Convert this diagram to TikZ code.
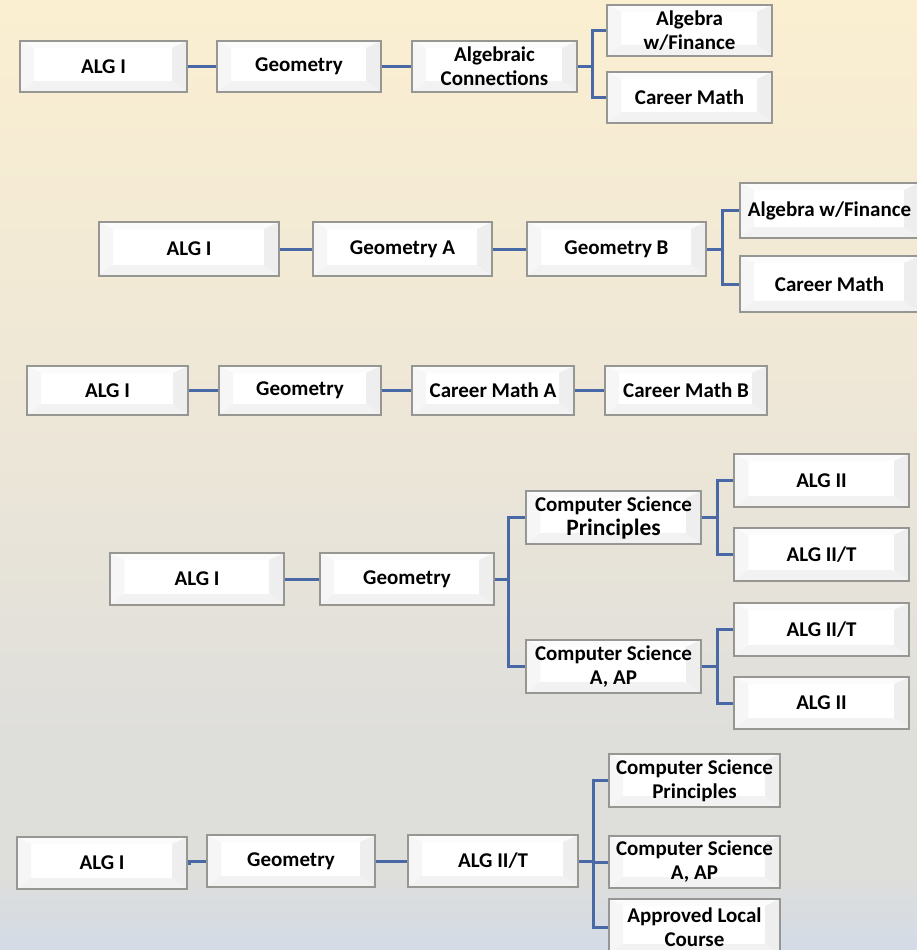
\documentclass[tikz,border=0pt]{standalone}
\usepackage{fontspec}
\setmainfont{Carlito}
\definecolor{bgtop}{RGB}{251,239,209}
\definecolor{bgmid}{RGB}{236,230,216}
\definecolor{bggray}{RGB}{222,222,219}
\definecolor{bgbot}{RGB}{211,219,230}
\definecolor{link}{RGB}{72,104,166}
\definecolor{rim}{RGB}{150,150,146}
\pgfdeclareverticalshading{pagebg}{100bp}{color(0bp)=(bgbot); color(25bp)=(bgbot); color(29bp)=(bggray); color(36bp)=(bggray); color(51bp)=(bgmid); color(75bp)=(bgtop); color(100bp)=(bgtop)}
\tikzset{
  bevelbox/.style={rectangle, draw=rim, line width=1.1pt, fill=white, inner sep=0pt,
    align=center, text=black, font=\bfseries\fontsize{21}{24}\selectfont,
    path picture={
      \coordinate (bvnw) at (path picture bounding box.north west);
      \coordinate (bvne) at (path picture bounding box.north east);
      \coordinate (bvsw) at (path picture bounding box.south west);
      \coordinate (bvse) at (path picture bounding box.south east);
      \fill[gray!3] (bvnw) -- (bvne) -- ([shift={(-15pt,-7pt)}]bvne) -- ([shift={(14pt,-7pt)}]bvnw) -- cycle;
      \fill[gray!7] (bvnw) -- ([shift={(14pt,-7pt)}]bvnw) -- ([shift={(14pt,11pt)}]bvsw) -- (bvsw) -- cycle;
      \fill[gray!13] (bvne) -- ([shift={(-15pt,-7pt)}]bvne) -- ([shift={(-15pt,11pt)}]bvse) -- (bvse) -- cycle;
      \fill[gray!10] (bvsw) -- ([shift={(14pt,11pt)}]bvsw) -- ([shift={(-15pt,11pt)}]bvse) -- (bvse) -- cycle;
    }},
  conn/.style={draw=link, line width=3pt}
}
% a bevelled box from its corners (left, top, right, bottom)
\newcommand\course[6]{%
  \node[bevelbox, minimum width={(#4-#2)*1pt}, minimum height={(#5-#3)*1pt}]
    (#1) at ({(#2+#4)/2},{(#3+#5)/2}) {#6};}
\begin{document}
\begin{tikzpicture}[x=1pt,y=-1pt]
\shade[shading=pagebg] (0,0) rectangle (917,950);
\useasboundingbox (0,0) rectangle (917,950);

% first pathway
\course{a1}{20}{41}{187}{92}{ALG I}
\course{a2}{217}{41}{381}{92}{Geometry}
\course{a3}{412}{41}{577}{92}{Algebraic\\Connections}
\course{a4}{607}{5}{772}{56}{Algebra\\w/Finance}
\course{a5}{607}{72}{772}{123}{Career Math}
\draw[conn] (a1.east) -- (a2.west);
\draw[conn] (a2.east) -- (a3.west);
\draw[conn] (a3.east) -- ++(15,0) coordinate (aj) |- (a4.west);
\draw[conn] (aj) |- (a5.west);

% second pathway
\course{b1}{99}{222}{279}{276}{ALG I}
\course{b2}{313}{222}{492}{276}{Geometry A}
\course{b3}{527}{222}{706}{276}{Geometry B}
\course{b4}{740}{183}{919}{238}{Algebra w/Finance}
\course{b5}{740}{256}{919}{312}{Career Math}
\draw[conn] (b1.east) -- (b2.west);
\draw[conn] (b2.east) -- (b3.west);
\draw[conn] (b3.east) -- ++(16,0) coordinate (bj) |- (b4.west);
\draw[conn] (bj) |- (b5.west);

% third pathway
\course{c1}{27}{366}{188}{415}{ALG I}
\course{c2}{219}{366}{381}{415}{Geometry}
\course{c3}{412}{366}{574}{415}{Career Math A}
\course{c4}{605}{366}{767}{415}{Career Math B}
\draw[conn] (c1.east) -- (c2.west);
\draw[conn] (c2.east) -- (c3.west);
\draw[conn] (c3.east) -- (c4.west);

% fourth pathway
\course{d1}{110}{553}{284}{605}{ALG I}
\course{d2}{320}{553}{494}{605}{Geometry}
\course{d3}{526}{491}{701}{544}{Computer Science\\{\fontsize{23.5}{25}\selectfont Principles}}
\course{d4}{526}{640}{701}{693}{Computer Science\\A, AP}
\course{d5}{734}{454}{909}{507}{ALG II}
\course{d6}{734}{528}{909}{581}{ALG II/T}
\course{d7}{734}{603}{909}{656}{ALG II/T}
\course{d8}{734}{677}{909}{729}{ALG II}
\draw[conn] (d1.east) -- (d2.west);
\draw[conn] (d2.east) -- ++(14,0) coordinate (dj) |- (d3.west);
\draw[conn] (dj) |- (d4.west);
\draw[conn] (d3.east) -- ++(16,0) coordinate (dk) |- (d5.west);
\draw[conn] (dk) |- (d6.west);
\draw[conn] (d4.east) -- ++(16,0) coordinate (dl) |- (d7.west);
\draw[conn] (dl) |- (d8.west);

% fifth pathway
\course{e1}{17}{837}{187}{889}{ALG I}
\course{e2}{207}{835}{375}{887}{Geometry}
\course{e3}{408}{835}{578}{887}{ALG II/T}
\course{e4}{609}{754}{780}{807}{Computer Science\\Principles}
\course{e5}{609}{836}{780}{888}{Computer Science\\A, AP}
\course{e6}{609}{899}{780}{955}{Approved Local\\Course}
\draw[conn] (e1.east) -- ++(2,0) |- (e2.west);
\draw[conn] (e2.east) -- (e3.west);
\draw[conn] (e3.east) -- ++(15,0) coordinate (ej) |- (e4.west);
\draw[conn] (ej) |- (e5.west);
\draw[conn] (ej) |- (e6.west);
\end{tikzpicture}
\end{document}
